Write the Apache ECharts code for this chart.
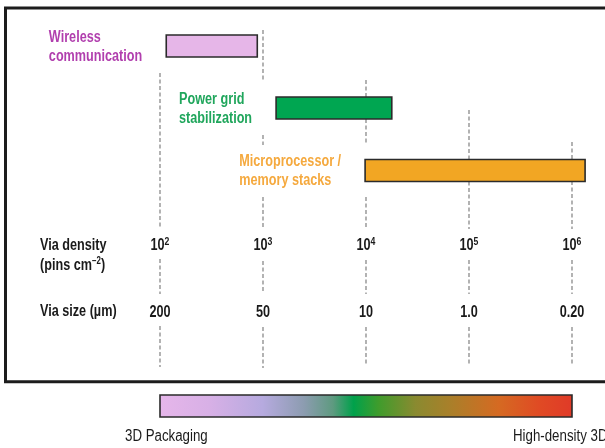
<!DOCTYPE html>
<html><head><meta charset="utf-8">
<script src="https://cdn.jsdelivr.net/npm/echarts@6/dist/echarts.min.js"></script>
<style>html,body{margin:0;padding:0;background:#fff}#c{width:605px;height:448px}</style>
</head><body><div id="c"></div>
<script>
// ---- data ----
const applications = ['Wireless\ncommunication', 'Power grid\nstabilization', 'Microprocessor /\nmemory stacks'];
const densityStart = [115, 1340, 9800];        // pins cm^-2
const densityEnd = [880, 17800, 1340000];      // pins cm^-2
const densityTicks = [1e2, 1e3, 1e4, 1e5, 1e6];
const densityExponents = ['2', '3', '4', '5', '6'];
const viaSizeLabels = ['200', '50', '10', '1.0', '0.20'];
const scaleEnds = ['3D Packaging', 'High-density 3D'];

// ---- layout / style (pixel-unit vertical axis) ----
const FONT = "'Liberation Sans', Arial, sans-serif";
const SX = 0.79;   // horizontal condensing of the text
const rowY = [46, 108, 170.5];
const barH = 22;
const appColors = ['#e6b6e8', '#00a651', '#f2a623'];
const appTextColors = ['#b13fae', '#20a65c', '#f5a93e'];
const densityRowY = 246, sizeRowY = 313;
const guideSegments = [
  [[73, 229], [259, 294], [326, 367]],
  [[30, 82], [135, 145], [197, 229], [261, 293], [327, 368]],
  [[80, 145], [197, 229], [260, 294], [327, 366]],
  [[110, 229], [260, 294], [327, 366]],
  [[142, 229], [260, 294], [327, 366]]
];

const guideData = [];
densityTicks.forEach((t, i) => guideSegments[i].forEach(s => guideData.push([t, s[0], s[1]])));
const barData = applications.map((a, i) => [densityStart[i], densityEnd[i], i]);
const tickData = densityTicks.map((t, i) => [t, i]);

const chart = echarts.init(document.getElementById('c'), null, {renderer: 'canvas'});
chart.setOption({
  animation: false,
  backgroundColor: '#fff',
  grid: {left: 5.5, top: 8, width: 599.5, height: 373.7, show: false},
  xAxis: {type: 'log', logBase: 10, min: Math.pow(10, 0.5), max: Math.pow(10, 0.5 + 599.5 / 103), show: false},
  yAxis: {type: 'value', inverse: true, min: 8, max: 381.7, show: false},
  graphic: [
    {type: 'rect', z: -10, shape: {x: 5.5, y: 8, width: 640, height: 373.7},
     style: {fill: '#fff', stroke: '#1c1c1c', lineWidth: 3}}
  ],
  series: [
    {
      type: 'custom', name: 'guides', data: guideData,
      encode: {x: 0, y: [1, 2]},
      renderItem: (params, api) => {
        const p1 = api.coord([api.value(0), api.value(1)]);
        const p2 = api.coord([api.value(0), api.value(2)]);
        return {type: 'line', shape: {x1: p1[0], y1: p1[1], x2: p2[0], y2: p2[1]},
                style: {stroke: '#a0a0a0', lineWidth: 1.6, lineDash: [4, 2.5]}};
      }
    },
    {
      type: 'custom', name: 'applications', data: barData,
      encode: {x: [0, 1]},
      renderItem: (params, api) => {
        const i = api.value(2);
        const s = api.coord([api.value(0), rowY[i]]);
        const e = api.coord([api.value(1), rowY[i]]);
        const txt = applications[i].split('\n').map(l => '{a|' + l + '}').join('\n');
        return {type: 'group', children: [
          {type: 'rect', shape: {x: s[0], y: s[1] - barH / 2, width: e[0] - s[0], height: barH},
           style: {fill: appColors[i], stroke: '#2b2b2b', lineWidth: 1.6}},
          {type: 'text', x: s[0] - 24, y: s[1] + 1, scaleX: SX,
           style: {text: txt, align: 'right', verticalAlign: 'middle',
                   rich: {a: {align: 'left', fontFamily: FONT, fontWeight: 'bold', fontSize: 16,
                              lineHeight: 19, fill: appTextColors[i]}}}}
        ]};
      }
    },
    {
      type: 'custom', name: 'density ticks', data: tickData,
      encode: {x: 0},
      renderItem: (params, api) => {
        const i = api.value(1);
        const p = api.coord([api.value(0), densityRowY]);
        const q = api.coord([api.value(0), sizeRowY]);
        return {type: 'group', children: [
          {type: 'text', x: p[0], y: p[1], scaleX: SX,
           style: {text: '{b|10}{s|' + densityExponents[i] + '}', align: 'center', verticalAlign: 'middle',
                   rich: {b: {fontFamily: FONT, fontWeight: 'bold', fontSize: 16, lineHeight: 20, fill: '#1a1a1a'},
                          s: {fontFamily: FONT, fontWeight: 'bold', fontSize: 11, lineHeight: 9,
                              verticalAlign: 'top', fill: '#1a1a1a'}}}},
          {type: 'text', x: q[0], y: q[1], scaleX: SX,
           style: {text: viaSizeLabels[i], align: 'center', verticalAlign: 'middle',
                   fontFamily: FONT, fontWeight: 'bold', fontSize: 16, fill: '#1a1a1a'}}
        ]};
      }
    }
  ]
});

const left = chart.convertToPixel({xAxisIndex: 0}, densityTicks[0]);
const right = chart.convertToPixel({xAxisIndex: 0}, densityTicks[densityTicks.length - 1]);
const rowTitleStyle = {fontFamily: FONT, fontWeight: 'bold', fontSize: 16, fill: '#1a1a1a'};
chart.setOption({
  graphic: [
    {type: 'rect', z: -10, shape: {x: 5.5, y: 8, width: 640, height: 373.7},
     style: {fill: '#fff', stroke: '#1c1c1c', lineWidth: 3}},
    {type: 'text', x: 40, y: 236, scaleX: SX,
     style: {text: '{t|Via density}\n{t|(pins cm}{s|−2}{t|)}', verticalAlign: 'top',
             rich: {t: Object.assign({lineHeight: 20}, rowTitleStyle),
                    s: Object.assign({}, rowTitleStyle, {fontSize: 10, lineHeight: 9, verticalAlign: 'top'})}}},
    {type: 'text', x: 40, y: 304, scaleX: SX,
     style: Object.assign({text: 'Via size (µm)', verticalAlign: 'top'}, rowTitleStyle)},
    {type: 'rect', shape: {x: left, y: 395, width: right - left, height: 22},
     style: {stroke: '#2b2b2b', lineWidth: 1.6,
             fill: new echarts.graphic.LinearGradient(0, 0, 1, 0, [
               {offset: 0, color: '#e6b6ea'},
               {offset: 0.12, color: '#d8b0e6'},
               {offset: 0.25, color: '#b6aadf'},
               {offset: 0.35, color: '#8c9cb0'},
               {offset: 0.42, color: '#5e9a80'},
               {offset: 0.47, color: '#00a14b'},
               {offset: 0.53, color: '#3f9c2c'},
               {offset: 0.62, color: '#8a8a30'},
               {offset: 0.70, color: '#a8802a'},
               {offset: 0.82, color: '#d56a22'},
               {offset: 0.92, color: '#e04a24'},
               {offset: 1, color: '#e03a28'}
             ])}},
    {type: 'text', x: 125, y: 429, scaleX: 0.83,
     style: {text: scaleEnds[0], verticalAlign: 'top', fontFamily: FONT, fontSize: 16, fill: '#1a1a1a'}},
    {type: 'text', x: 513, y: 429, scaleX: 0.83,
     style: {text: scaleEnds[1], verticalAlign: 'top', fontFamily: FONT, fontSize: 16, fill: '#1a1a1a'}}
  ]
});
</script></body></html>
